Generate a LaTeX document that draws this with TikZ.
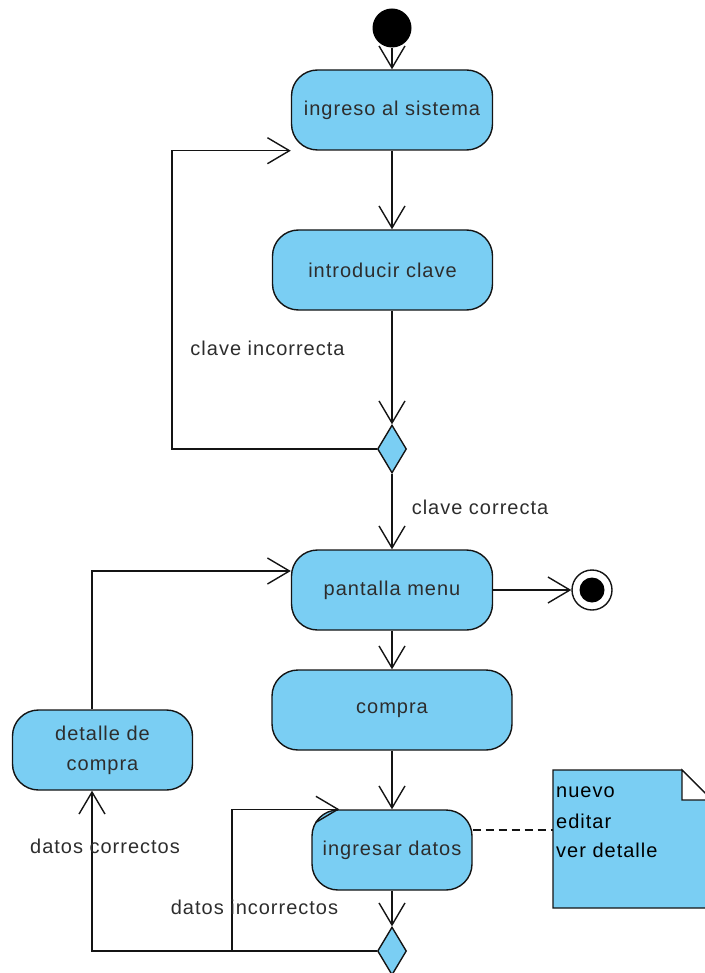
\documentclass[tikz,border=0pt]{standalone}
\usepackage{fontspec}
\setmainfont{Liberation Sans}[LetterSpace=5]
\usetikzlibrary{arrows.meta,shapes.geometric}

\definecolor{actfill}{RGB}{122,206,243}
\definecolor{txt}{RGB}{45,45,45}
\definecolor{ln}{RGB}{20,20,20}

\begin{document}
\begin{tikzpicture}[x=1pt,y=-1pt,
  every node/.style={font=\fontsize{20}{30}\selectfont, text=txt},
  action/.style={draw=ln, line width=1.4pt, fill=actfill, rounded corners=26pt,
    minimum height=80pt, inner sep=0pt, align=center},
  decision/.style={draw=ln, line width=1.4pt, fill=actfill, diamond,
    minimum width=29pt, minimum height=48pt, inner sep=0pt},
  flow/.style={draw=ln, line width=1.4pt,
    -{Straight Barb[length=22pt,width=26pt]}},
  notetext/.style={anchor=base west, inner sep=0pt, text=black}
]
\useasboundingbox (0,0) rectangle (704,973);

% activities
\node[circle, fill=black, minimum size=39pt, inner sep=0pt] (start) at (392,28) {};
\node[action, minimum width=201pt] (ingreso) at (392,110) {ingreso al sistema};
\node[action, minimum width=220pt] (introducir) at (382.5,270) {introducir clave};
\node[decision] (d1) at (392,449) {};
\node[action, minimum width=201pt] (pantalla) at (392,590) {pantalla menu};
\node[circle, draw=ln, line width=1.4pt, fill=white, minimum size=40pt, inner sep=0pt] (fin) at (592,590) {};
\node[circle, fill=black, minimum size=25pt, inner sep=0pt] (fincore) at (fin) {};
\node[action, minimum width=240pt] (compra) at (392,710) {compra};
\node[action, minimum width=160pt] (ingresar) at (392,850) {ingresar datos};
\node[decision] (d2) at (392,951) {};
\node[action, minimum width=180pt] (detalle) at (102.5,750) {detalle de\\compra};

% main flow
\draw[flow] (start) -- (ingreso.north);
\draw[flow] (ingreso.south) -- (ingreso.south |- introducir.north);
\draw[flow] (d1.north |- introducir.south) -- (d1.north);
\draw[flow] (d1.west) -- ++(-205,0) |- (ingreso.south west);
\draw[flow] (d1.south) -- (pantalla.north);
\draw[flow] (pantalla.east) -- (fin.west);
\draw[flow] (pantalla.south) -- (compra.north);
\draw[flow] (compra.south) -- (ingresar.north);
\draw[flow] (ingresar.south) -- (d2.north);
\draw[flow] ([xshift=-10.5pt]detalle.north) |- ([yshift=19pt]pantalla.west);
\draw[flow] (d2.west) -| ([xshift=-10.5pt]detalle.south);
\coordinate (split) at (232,951);
\draw[flow] (split) |- ([xshift=28pt]ingresar.north west);

% guard labels
\node (lci) at (267.5,348) {clave incorrecta};
\node (lcc) at (480,507) {clave correcta};
\node (ldc) at (105,846) {datos correctos};
\node (ldi) at (254.5,907) {datos incorrectos};

% note
\draw[ln, line width=1.4pt, fill=actfill] (553,770) -- (682,770) -- (712,800) -- (712,908) -- (553,908) -- cycle;
\draw[ln, line width=1.4pt, fill=white] (682,770) -- (682,800) -- (712,800) -- cycle;
\coordinate (notew) at (553,830);
\draw[ln, line width=1.4pt, dash pattern=on 8pt off 5pt] ([yshift=20pt]ingresar.east) -- (notew);
\node[notetext] (n1) at (556,797) {nuevo};
\node[notetext] (n2) at (556,828) {editar};
\node[notetext] (n3) at (556,857) {ver detalle};
\end{tikzpicture}
\end{document}
